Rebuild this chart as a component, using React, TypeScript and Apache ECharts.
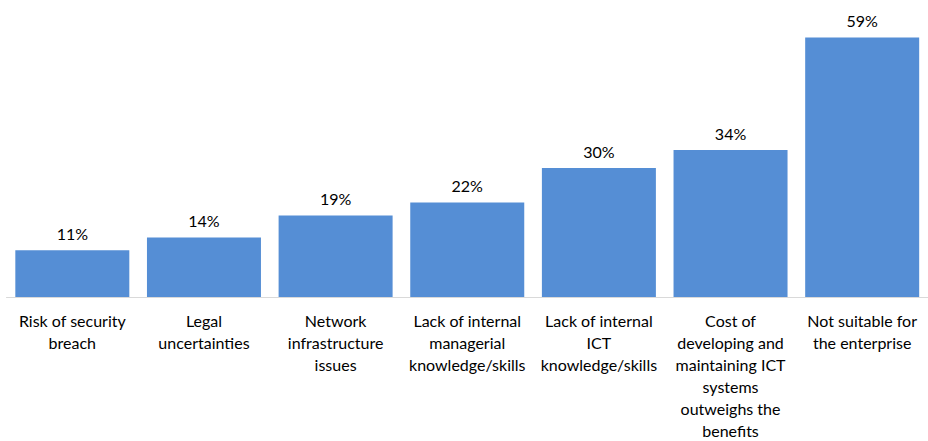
import React, { useEffect, useRef } from "react";
import * as echarts from "echarts";

const categories = [
  "Risk of security\nbreach",
  "Legal\nuncertainties",
  "Network\ninfrastructure\nissues",
  "Lack of internal\nmanagerial\nknowledge/skills",
  "Lack of internal\nICT\nknowledge/skills",
  "Cost of\ndeveloping and\nmaintaining ICT\nsystems\noutweighs the\nbenefits",
  "Not suitable for\nthe enterprise",
];
const values = [10.6, 13.5, 18.5, 21.5, 29.3, 33.4, 59];
const labels = ["11%", "14%", "19%", "22%", "30%", "34%", "59%"];

export default function App() {
  const ref = useRef<HTMLDivElement>(null);
  useEffect(() => {
    if (!ref.current) return;
    const chart = echarts.init(ref.current, null, { renderer: "svg" });
    chart.setOption({
      animation: false,
      grid: { left: 6.5, width: 927, top: 33, height: 266, containLabel: false },
      xAxis: {
        type: "category",
        data: categories,
        axisLine: { lineStyle: { color: "#d9d9d9", width: 1 } },
        axisTick: { show: false },
        axisLabel: {
          interval: 0,
          margin: 12,
          fontFamily: "Lato, 'Noto Sans', sans-serif",
          fontSize: 16,
          lineHeight: 22,
          color: "#000",
          align: "center",
        },
      },
      yAxis: {
        type: "value",
        min: 0,
        max: 60,
        show: false,
        splitLine: { show: false },
      },
      series: [
        {
          type: "bar",
          data: values,
          barCategoryGap: "13.4%",
          itemStyle: { color: "#558ED5" },
          label: {
            show: true,
            position: "top",
            distance: 9,
            fontFamily: "Lato, 'Noto Sans', sans-serif",
            fontSize: 16,
            color: "#000",
            formatter: (p: any) => labels[p.dataIndex],
          },
        },
      ],
    });
    return () => chart.dispose();
  }, []);
  return <div ref={ref} style={{ width: 928, height: 441, position: "absolute", left: 0, top: 0, overflow: "hidden" }} />;
}
